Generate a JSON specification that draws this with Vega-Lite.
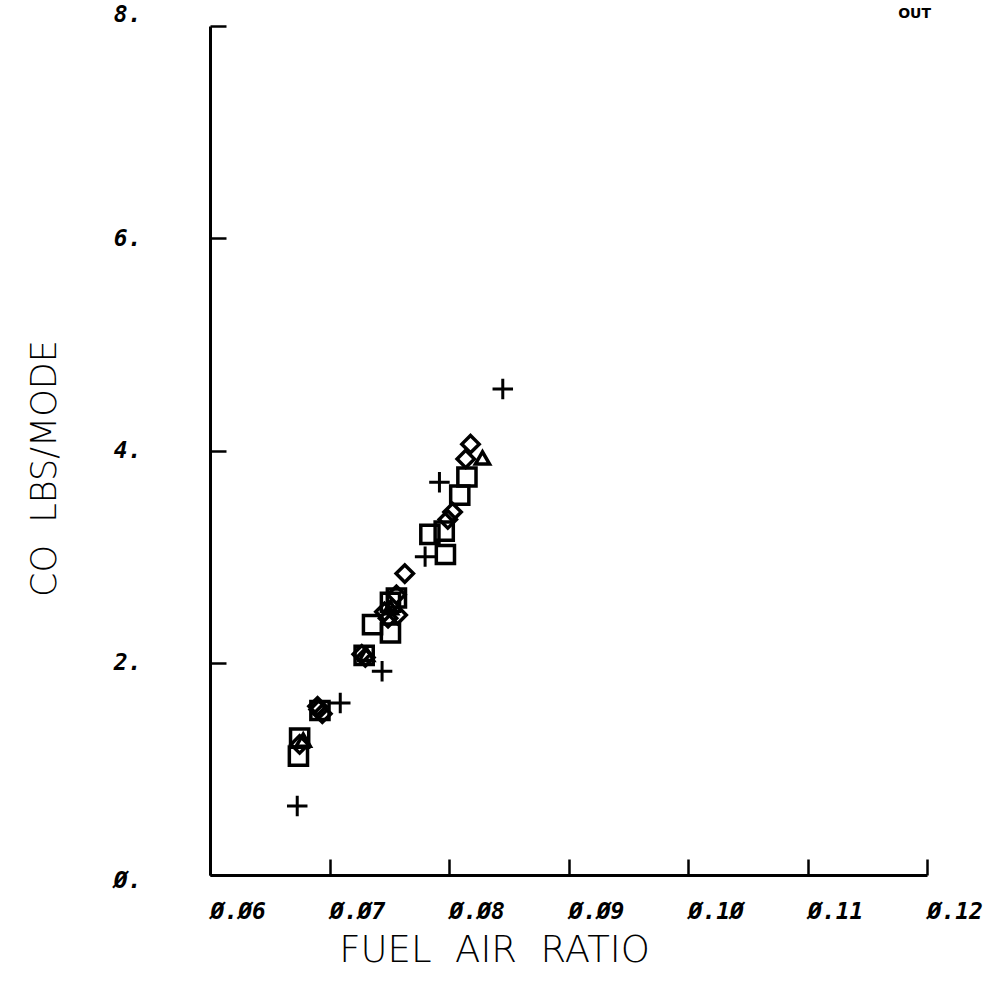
{
  "$schema": "https://vega.github.io/schema/vega-lite/v6.json",
  "width": 717,
  "height": 849,
  "autosize": {"type": "none"},
  "padding": {"left": 210, "top": 26, "right": 65, "bottom": 112},
  "background": "white",
  "title": {
    "text": "OUT",
    "anchor": "end",
    "frame": "group",
    "orient": "top",
    "offset": 2,
    "baseline": "bottom",
    "font": "DejaVu Sans",
    "fontSize": 14,
    "fontWeight": "bold",
    "color": "black",
    "dx": 4,
    "dy": 34
  },
  "config": {
    "view": {"stroke": null},
    "axis": {
      "domainColor": "black",
      "domainWidth": 3,
      "tickColor": "black",
      "tickWidth": 2.5,
      "grid": false,
      "labelFont": "DejaVu Sans Mono",
      "labelFontWeight": "bold",
      "labelFontStyle": "italic",
      "labelFontSize": 23,
      "labelColor": "black",
      "titleFont": "DejaVu Sans",
      "titleFontWeight": 200,
      "titleFontSize": 36,
      "titleColor": "black"
    }
  },
  "data": {
    "values": [
      {"series": "plus", "fa": 0.0845, "co": 4.58},
      {"series": "plus", "fa": 0.0792, "co": 3.70},
      {"series": "plus", "fa": 0.0780, "co": 3.00},
      {"series": "plus", "fa": 0.0744, "co": 1.92},
      {"series": "plus", "fa": 0.0709, "co": 1.62},
      {"series": "plus", "fa": 0.0673, "co": 0.65},
      {"series": "square", "fa": 0.0797, "co": 3.02},
      {"series": "square", "fa": 0.0809, "co": 3.58},
      {"series": "square", "fa": 0.0815, "co": 3.75},
      {"series": "square", "fa": 0.0784, "co": 3.21},
      {"series": "square", "fa": 0.0796, "co": 3.24},
      {"series": "square", "fa": 0.0736, "co": 2.36},
      {"series": "square", "fa": 0.0751, "co": 2.28},
      {"series": "square", "fa": 0.0751, "co": 2.57},
      {"series": "square", "fa": 0.0756, "co": 2.61},
      {"series": "square", "fa": 0.0674, "co": 1.12},
      {"series": "square", "fa": 0.0675, "co": 1.29},
      {"series": "square", "fa": 0.0729, "co": 2.07},
      {"series": "square", "fa": 0.0692, "co": 1.55},
      {"series": "diamond", "fa": 0.0818, "co": 4.06},
      {"series": "diamond", "fa": 0.0763, "co": 2.84},
      {"series": "diamond", "fa": 0.0814, "co": 3.92},
      {"series": "diamond", "fa": 0.0803, "co": 3.42},
      {"series": "diamond", "fa": 0.0799, "co": 3.35},
      {"series": "diamond", "fa": 0.0757, "co": 2.45},
      {"series": "diamond", "fa": 0.0749, "co": 2.42},
      {"series": "diamond", "fa": 0.0746, "co": 2.48},
      {"series": "diamond", "fa": 0.0727, "co": 2.08},
      {"series": "diamond", "fa": 0.0730, "co": 2.05},
      {"series": "diamond", "fa": 0.0691, "co": 1.56},
      {"series": "diamond", "fa": 0.0694, "co": 1.52},
      {"series": "diamond", "fa": 0.0690, "co": 1.59},
      {"series": "diamond", "fa": 0.0675, "co": 1.23},
      {"series": "diamond", "fa": 0.0756, "co": 2.64},
      {"series": "triangle", "fa": 0.0828, "co": 3.93},
      {"series": "triangle", "fa": 0.0751, "co": 2.52},
      {"series": "triangle", "fa": 0.0678, "co": 1.27},
      {"series": "triangle", "fa": 0.0731, "co": 2.08}
    ]
  },
  "resolve": {"axis": {"x": "independent", "y": "independent"}},
  "layer": [
    {
      "transform": [{"filter": "datum.series === 'square'"}],
      "mark": {"type": "point", "shape": "square", "size": 330, "filled": false, "stroke": "black", "strokeWidth": 3.5, "opacity": 1},
      "encoding": {
        "x": {
          "field": "fa",
          "type": "quantitative",
          "scale": {"domain": [0.06, 0.12], "nice": false, "zero": false},
          "axis": {
            "title": "FUEL\u00a0 AIR\u00a0 RATIO",
            "titleFontSize": 37,
            "values": [0.06, 0.07, 0.08, 0.09, 0.10, 0.11, 0.12],
            "labelExpr": "replace(format(datum.value, '.2f'), /0/g, 'Ø')",
            "ticks": false,
            "tickSize": 0,
            "labelPadding": 25,
            "labelAlign": "left",
            "labelBaseline": "top",
            "labelDx": -5,
            "labelFlush": false,
            "labelOverlap": false,
            "titleX": 284,
            "titleY": 75,
            "titleAnchor": "middle",
            "titleBaseline": "middle"
          }
        },
        "y": {
          "field": "co",
          "type": "quantitative",
          "scale": {"domain": [0, 8], "nice": false},
          "axis": {
            "title": "CO\u00a0 LBS/MODE",
            "titleFontSize": 35,
            "values": [0, 2, 4, 6, 8],
            "labelExpr": "replace(format(datum.value, 'd'), /0/g, 'Ø') + '.'",
            "ticks": false,
            "tickSize": 0,
            "labelPadding": 69,
            "labelAlign": "right",
            "labelBaseline": "middle",
            "labelOffset": {"condition": [{"test": "datum.value === 8", "value": -12}, {"test": "datum.value === 0", "value": 5}], "value": 0},
            "labelFlush": false,
            "labelOverlap": false,
            "titleX": -166,
            "titleY": 442,
            "titleAngle": -90,
            "titleAlign": "center",
            "titleBaseline": "middle"
          }
        }
      }
    },
    {
      "transform": [{"filter": "datum.series === 'diamond'"}],
      "mark": {"type": "point", "shape": "diamond", "size": 300, "filled": false, "stroke": "black", "strokeWidth": 3.5, "opacity": 1},
      "encoding": {
        "x": {"field": "fa", "type": "quantitative", "scale": {"domain": [0.06, 0.12], "nice": false, "zero": false}, "axis": null},
        "y": {"field": "co", "type": "quantitative", "scale": {"domain": [0, 8], "nice": false}, "axis": null}
      }
    },
    {
      "transform": [{"filter": "datum.series === 'triangle'"}],
      "mark": {"type": "point", "shape": "triangle-up", "size": 200, "filled": false, "stroke": "black", "strokeWidth": 3.5, "opacity": 1},
      "encoding": {
        "x": {"field": "fa", "type": "quantitative", "scale": {"domain": [0.06, 0.12], "nice": false, "zero": false}, "axis": null},
        "y": {"field": "co", "type": "quantitative", "scale": {"domain": [0, 8], "nice": false}, "axis": null}
      }
    },
    {
      "transform": [{"filter": "datum.series === 'plus'"}],
      "mark": {"type": "point", "shape": "M-1,0L1,0M0,-1L0,1", "size": 420, "filled": false, "stroke": "black", "strokeWidth": 3, "opacity": 1},
      "encoding": {
        "x": {
          "field": "fa",
          "type": "quantitative",
          "scale": {"domain": [0.06, 0.12], "nice": false, "zero": false},
          "axis": {
            "orient": "top",
            "offset": -849,
            "values": [0.06, 0.07, 0.08, 0.09, 0.10, 0.11, 0.12],
            "domain": false,
            "labels": false,
            "ticks": true,
            "tickSize": 16,
            "title": null
          }
        },
        "y": {
          "field": "co",
          "type": "quantitative",
          "scale": {"domain": [0, 8], "nice": false},
          "axis": {
            "orient": "right",
            "offset": -717,
            "values": [0, 2, 4, 6, 8],
            "domain": false,
            "labels": false,
            "ticks": true,
            "tickSize": 16,
            "title": null
          }
        }
      }
    }
  ]
}
